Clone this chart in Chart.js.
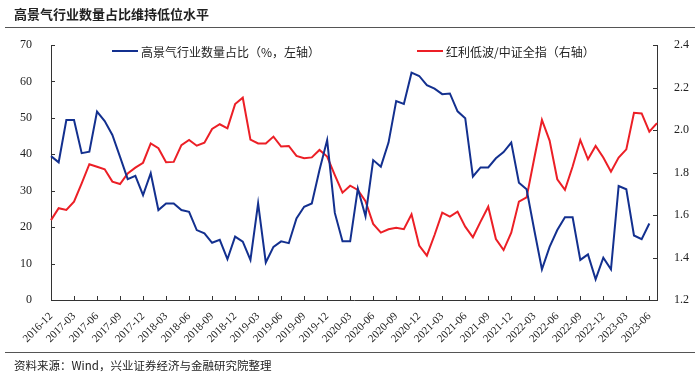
<!DOCTYPE html>
<html>
<head>
    <title>高景气行业数量占比维持低位水平</title>
    <script src="https://cdn.jsdelivr.net/npm/chart.js@4/dist/chart.umd.min.js"></script>
    <style>
        body {
            margin: 0;
            background: white;
            font-family: "Noto Sans CJK SC", sans-serif;
        }
        .page {
            position: relative;
            width: 700px;
            height: 374px;
        }
        .title {
            position: absolute;
            left: 14px;
            top: 4px;
            font-size: 13px;
            font-weight: bold;
            color: #222;
        }
        .rule {
            position: absolute;
            left: 5px;
            right: 5px;
            height: 0;
            border-top: 1.5px solid #555;
        }
        .source {
            position: absolute;
            left: 14px;
            top: 357px;
            font-size: 11.5px;
            color: #222;
        }
        #chart {
            position: absolute;
            left: 0;
            top: 0;
        }
    </style>
</head>
<body>
<div class="page">
    <canvas id="chart" width="700" height="374"></canvas>
    <div class="title">高景气行业数量占比维持低位水平</div>
    <div class="rule" style="top: 27px;"></div>
    <div class="rule" style="top: 352px;"></div>
    <div class="source">资料来源：Wind，兴业证券经济与金融研究院整理</div>
</div>

<script>
    // monthly categories
    const months = [
        '2016-12',
        '2017-01', '2017-02', '2017-03', '2017-04', '2017-05', '2017-06', '2017-07', '2017-08', '2017-09', '2017-10', '2017-11', '2017-12',
        '2018-01', '2018-02', '2018-03', '2018-04', '2018-05', '2018-06', '2018-07', '2018-08', '2018-09', '2018-10', '2018-11', '2018-12',
        '2019-01', '2019-02', '2019-03', '2019-04', '2019-05', '2019-06', '2019-07', '2019-08', '2019-09', '2019-10', '2019-11', '2019-12',
        '2020-01', '2020-02', '2020-03', '2020-04', '2020-05', '2020-06', '2020-07', '2020-08', '2020-09', '2020-10', '2020-11', '2020-12',
        '2021-01', '2021-02', '2021-03', '2021-04', '2021-05', '2021-06', '2021-07', '2021-08', '2021-09', '2021-10', '2021-11', '2021-12',
        '2022-01', '2022-02', '2022-03', '2022-04', '2022-05', '2022-06', '2022-07', '2022-08', '2022-09', '2022-10', '2022-11', '2022-12',
        '2023-01', '2023-02', '2023-03', '2023-04', '2023-05', '2023-06', '2023-07'
    ];

    // 高景气行业数量占比 (%), left axis
    const highShare = [
        39.5, 37.8, 49.4, 49.4, 40.3, 40.7, 51.7, 49.1, 45.3, 39.3,
        33.2, 34.1, 28.8, 34.8, 24.7, 26.5, 26.5, 24.7, 24.2, 19.2,
        18.3, 15.7, 16.5, 11.2, 17.4, 16.0, 11.0, 26.5, 10.3, 14.6,
        16.1, 15.6, 22.4, 25.6, 26.5, 35.7, 43.9, 23.9, 16.1, 16.1,
        30.6, 23.0, 38.4, 36.6, 43.2, 54.6, 53.8, 62.4, 61.5, 59.0,
        58.0, 56.5, 56.7, 51.8, 49.9, 33.9, 36.4, 36.4, 38.9, 40.6,
        43.2, 32.2, 30.4, 19.2, 8.4, 14.6, 19.2, 22.7, 22.7, 11.0,
        12.5, 5.7, 11.6, 8.4, 31.3, 30.4, 17.7, 16.7, 21.0
    ];

    // 红利低波/中证全指, right axis
    const ratio = [
        1.576, 1.632, 1.624, 1.663, 1.749, 1.839, 1.827, 1.815, 1.757, 1.746,
        1.796, 1.823, 1.846, 1.937, 1.914, 1.848, 1.850, 1.929, 1.953, 1.926,
        1.940, 2.005, 2.027, 2.008, 2.122, 2.152, 1.955, 1.937, 1.937, 1.969,
        1.922, 1.925, 1.878, 1.867, 1.871, 1.906, 1.875, 1.788, 1.705, 1.738,
        1.718, 1.665, 1.558, 1.517, 1.533, 1.540, 1.533, 1.603, 1.456, 1.409,
        1.506, 1.611, 1.592, 1.616, 1.545, 1.495, 1.569, 1.639, 1.487, 1.435,
        1.517, 1.663, 1.683, 1.867, 2.047, 1.950, 1.768, 1.718, 1.828, 1.953,
        1.862, 1.925, 1.871, 1.804, 1.870, 1.909, 2.081, 2.078, 1.992, 2.032
    ];

    const leftTicks = { min: 0, max: 70, step: 10 };
    const rightTicks = { min: 1.2, max: 2.4, step: 0.2 };

    const BLUE = '#13308f';
    const RED = '#ec1f26';
    const AXIS = '#333333';

    // short tick marks pointing into the plot, plus the legend inside the plot
    const decorations = {
        id: 'decorations',
        afterDatasetsDraw(chart) {
            const c = chart.ctx;
            const area = chart.chartArea;
            const x = chart.scales.x;
            const yl = chart.scales.y;
            const yr = chart.scales.y1;
            c.save();
            c.strokeStyle = AXIS;
            c.lineWidth = 1;
            c.beginPath();
            yl.ticks.forEach(t => {
                const py = Math.round(yl.getPixelForValue(t.value)) + 0.5;
                c.moveTo(area.left, py);
                c.lineTo(area.left + 4, py);
            });
            yr.ticks.forEach(t => {
                const py = Math.round(yr.getPixelForValue(t.value)) + 0.5;
                c.moveTo(area.right, py);
                c.lineTo(area.right - 4, py);
            });
            months.forEach((m, i) => {
                if (i % 3 !== 0) return;
                const px = Math.round(x.getPixelForValue(i)) + 0.5;
                c.moveTo(px, area.bottom);
                c.lineTo(px, area.bottom - 4);
            });
            c.stroke();

            // legend
            const ly = area.top + 6;
            c.font = '12px "Noto Sans CJK SC", sans-serif';
            c.textBaseline = 'middle';
            c.fillStyle = '#222';
            const items = [
                { dx: 61, ds: chart.data.datasets[0] },
                { dx: 366, ds: chart.data.datasets[1] }
            ];
            items.forEach(it => {
                const lx = area.left + it.dx;
                c.strokeStyle = it.ds.borderColor;
                c.lineWidth = 2;
                c.beginPath();
                c.moveTo(lx, ly);
                c.lineTo(lx + 26, ly);
                c.stroke();
                c.fillText(it.ds.label, lx + 29, ly + 1);
            });
            c.restore();
        }
    };

    const tickFont = { family: '"Liberation Serif", "Times New Roman", serif', size: 12 };

    new Chart(document.getElementById('chart'), {
        type: 'line',
        data: {
            labels: months,
            datasets: [
                {
                    label: '高景气行业数量占比（%，左轴）',
                    data: highShare,
                    borderColor: BLUE,
                    backgroundColor: BLUE,
                    borderWidth: 2,
                    pointRadius: 0,
                    tension: 0,
                    yAxisID: 'y'
                },
                {
                    label: '红利低波/中证全指（右轴）',
                    data: ratio,
                    borderColor: RED,
                    backgroundColor: RED,
                    borderWidth: 2,
                    pointRadius: 0,
                    tension: 0,
                    yAxisID: 'y1'
                }
            ]
        },
        options: {
            responsive: false,
            animation: false,
            layout: { padding: { top: 45, left: 0, right: 0, bottom: 0 } },
            plugins: {
                legend: { display: false },
                tooltip: { enabled: false }
            },
            scales: {
                x: {
                    offset: false,
                    grid: { display: false },
                    border: { display: true, color: AXIS, width: 1 },
                    ticks: {
                        autoSkip: false,
                        maxRotation: 45,
                        minRotation: 45,
                        padding: 2,
                        color: '#222',
                        font: { family: tickFont.family, size: 11 },
                        callback: (v, i) => (i % 3 === 0 ? months[i] : '')
                    },
                    afterFit: s => { s.height = 74; }
                },
                y: {
                    position: 'left',
                    min: leftTicks.min,
                    max: leftTicks.max,
                    grid: { display: false },
                    border: { display: true, color: AXIS, width: 1 },
                    ticks: {
                        stepSize: leftTicks.step,
                        padding: 11,
                        color: '#222',
                        font: tickFont
                    },
                    afterFit: s => { s.width = 51; }
                },
                y1: {
                    position: 'right',
                    min: rightTicks.min,
                    max: rightTicks.max,
                    grid: { display: false },
                    border: { display: true, color: AXIS, width: 1 },
                    ticks: {
                        stepSize: rightTicks.step,
                        padding: 9,
                        color: '#222',
                        font: tickFont,
                        callback: v => Number(v).toFixed(1)
                    },
                    afterFit: s => { s.width = 43; }
                }
            }
        },
        plugins: [decorations]
    });
</script>
</body>
</html>
